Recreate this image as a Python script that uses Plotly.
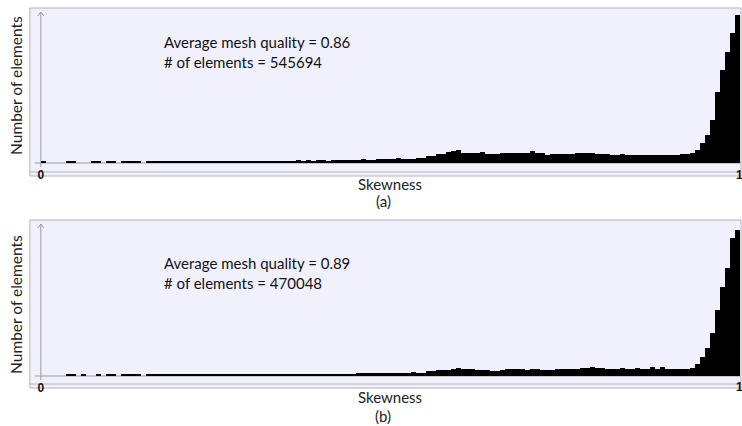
import plotly.graph_objects as go

# Histogram of element skewness, 140 equal bins on [0, 1]
N_BINS = 140

# (a) element counts per skewness bin
counts_a = [
    800, 0, 0, 0, 0, 800, 800, 0, 0, 0,
    800, 800, 0, 800, 800, 0, 800, 800, 800, 800,
    0, 800, 800, 850, 800, 800, 800, 800, 850, 800,
    800, 800, 800, 800, 850, 800, 800, 800, 800, 800,
    850, 800, 800, 800, 800, 850, 800, 800, 800, 850,
    850, 1400, 1000, 1200, 1000, 1200, 1200, 1000, 1200, 1200,
    1200, 1300, 1200, 1300, 1800, 1400, 1400, 1600, 1600, 1600,
    1600, 2200, 1600, 1600, 1700, 2200, 2200, 3000, 3000, 3600,
    3600, 4400, 4800, 5200, 4000, 4000, 4000, 4000, 4400, 3600,
    3600, 3600, 4200, 4000, 4000, 4000, 4000, 4000, 4800, 4000,
    4000, 3200, 3800, 3800, 3800, 3800, 3800, 4000, 4000, 4000,
    4000, 3800, 3800, 3800, 3400, 3400, 3800, 3200, 3200, 3200,
    3400, 3300, 3400, 3400, 3300, 3400, 3400, 3400, 3500, 3600,
    4000, 5200, 8000, 11200, 17200, 28400, 37200, 44400, 52000, 59200,
]

# (b) element counts per skewness bin
counts_b = [
    0, 0, 0, 0, 0, 800, 800, 0, 800, 0,
    0, 800, 0, 800, 800, 0, 800, 800, 800, 800,
    0, 800, 800, 800, 850, 800, 800, 800, 800, 800,
    850, 800, 800, 800, 800, 800, 850, 800, 800, 800,
    800, 800, 850, 800, 800, 800, 800, 850, 800, 800,
    800, 800, 800, 850, 800, 800, 800, 800, 850, 800,
    800, 800, 850, 1200, 1400, 1200, 1100, 1100, 1100, 1100,
    1100, 1100, 1100, 1100, 1600, 1300, 1300, 2000, 2000, 2400,
    2400, 2400, 2800, 3200, 2800, 2800, 2800, 2400, 2400, 2400,
    2000, 2000, 2400, 2800, 2800, 2800, 2800, 2400, 2800, 2800,
    2400, 2400, 2400, 2800, 2800, 2800, 2800, 2800, 3200, 3200,
    3600, 3200, 3200, 2800, 2800, 2800, 3200, 2800, 2800, 3200,
    2800, 3000, 3500, 3000, 3500, 3000, 3000, 3000, 3000, 3000,
    3400, 5000, 7600, 11200, 17200, 26400, 35600, 43200, 55200, 58400,
]

panel_labels = ["(a)", "(b)"]
avg_quality = ["0.86", "0.89"]
n_elements = ["545694", "470048"]

W, H = 742, 426
FONT = "Lato"
BG = "#f1f1fd"
FRAME = "#b4b4b4"
AXIS = "#9a9a9a"


def px(x):
    return x / W


def py(y):
    return 1 - y / H


bin_w = 1.0 / N_BINS
centers = [(i + 0.5) * bin_w for i in range(N_BINS)]

# pixel layout of each panel: frame top, baseline, top of tallest bar
panels = [
    dict(top=8, base=163, peak=15, counts=counts_a),
    dict(top=220, base=376, peak=230, counts=counts_b),
]
X0, X1 = 38, 740          # pixel span of skewness 0..1
FL, FR = 27, 741          # frame left/right

fig = go.Figure()
shapes = []
annotations = []


def note(text, x, y, size=15, color="#222", **kw):
    return dict(text=text, x=px(x), y=py(y), xref="paper", yref="paper",
                showarrow=False, yanchor="middle",
                font=dict(family=kw.pop("family", FONT), size=size, color=color),
                **kw)


for k, p in enumerate(panels):
    sfx = "" if k == 0 else str(k + 1)
    fig.add_trace(go.Bar(
        x=centers, y=p["counts"], width=bin_w,
        marker=dict(color="black", line=dict(width=0)),
        xaxis="x" + sfx, yaxis="y" + sfx, showlegend=False,
        hoverinfo="skip",
    ))

    fig.layout["xaxis" + sfx] = dict(
        domain=[px(X0), px(X1)], range=[0, 1], anchor="y" + sfx,
        tickvals=[0], ticktext=["<b>0</b>"],
        ticks="", showgrid=False, zeroline=False, showline=False,
        tickfont=dict(family="Liberation Sans", size=12, color="#111"),
        ticklabelstandoff=3, fixedrange=True,
    )
    fig.layout["yaxis" + sfx] = dict(
        domain=[py(p["base"]), py(p["peak"])],
        range=[0, max(p["counts"])], anchor="x" + sfx,
        showticklabels=False, ticks="", showgrid=False,
        zeroline=False, showline=False, fixedrange=True,
    )

    top, base = p["top"], p["base"]
    bottom = top + 168
    # panel frame with lavender fill
    shapes.append(dict(type="rect", xref="paper", yref="paper",
                       x0=px(FL), x1=px(FR), y0=py(bottom), y1=py(top),
                       fillcolor=BG, line=dict(color=FRAME, width=1),
                       layer="below"))
    # inner lower frame line
    shapes.append(dict(type="line", xref="paper", yref="paper",
                       x0=px(FL), x1=px(FR), y0=py(bottom - 4), y1=py(bottom - 4),
                       line=dict(color=FRAME, width=1), layer="below"))
    # baseline
    shapes.append(dict(type="line", xref="paper", yref="paper",
                       x0=px(32), x1=px(FR), y0=py(base), y1=py(base),
                       line=dict(color=AXIS, width=1), layer="below"))
    # vertical axis with arrow head
    shapes.append(dict(type="line", xref="paper", yref="paper",
                       x0=px(X0), x1=px(X0), y0=py(base + 4), y1=py(top + 4),
                       line=dict(color=AXIS, width=1), layer="below"))
    shapes.append(dict(type="path", xref="paper", yref="paper",
                       path=f"M {px(X0 - 3)} {py(top + 8)} L {px(X0)} {py(top + 4)} L {px(X0 + 3)} {py(top + 8)}",
                       line=dict(color=AXIS, width=1), layer="below"))

    # texts
    txt_y1 = top + 34 if k == 0 else top + 43
    annotations += [
        note(f"Average mesh quality = {avg_quality[k]}", 160, txt_y1,
             color="#111", xanchor="left"),
        note(f"# of elements = {n_elements[k]}", 160, txt_y1 + 20,
             color="#111", xanchor="left"),
        note("Number of elements", 13, top + 77 if k == 0 else top + 84,
             size=15.5, textangle=-90, xanchor="center"),
        note("Skewness", 389, bottom + 8 if k == 0 else bottom + 9,
             xanchor="center"),
        note(panel_labels[k], 382, bottom + 25 if k == 0 else bottom + 28,
             xanchor="center"),
        # right end label of the skewness axis, at the page edge
        note("<b>1</b>", 734, bottom - 1, size=12, color="#111",
             family="Liberation Sans", xanchor="left"),
    ]

fig.update_layout(
    width=W, height=H,
    margin=dict(l=0, r=0, t=0, b=0),
    paper_bgcolor="white", plot_bgcolor="rgba(0,0,0,0)",
    bargap=0, shapes=shapes, annotations=annotations,
)

fig.write_html("out.html", config={"displayModeBar": False})
